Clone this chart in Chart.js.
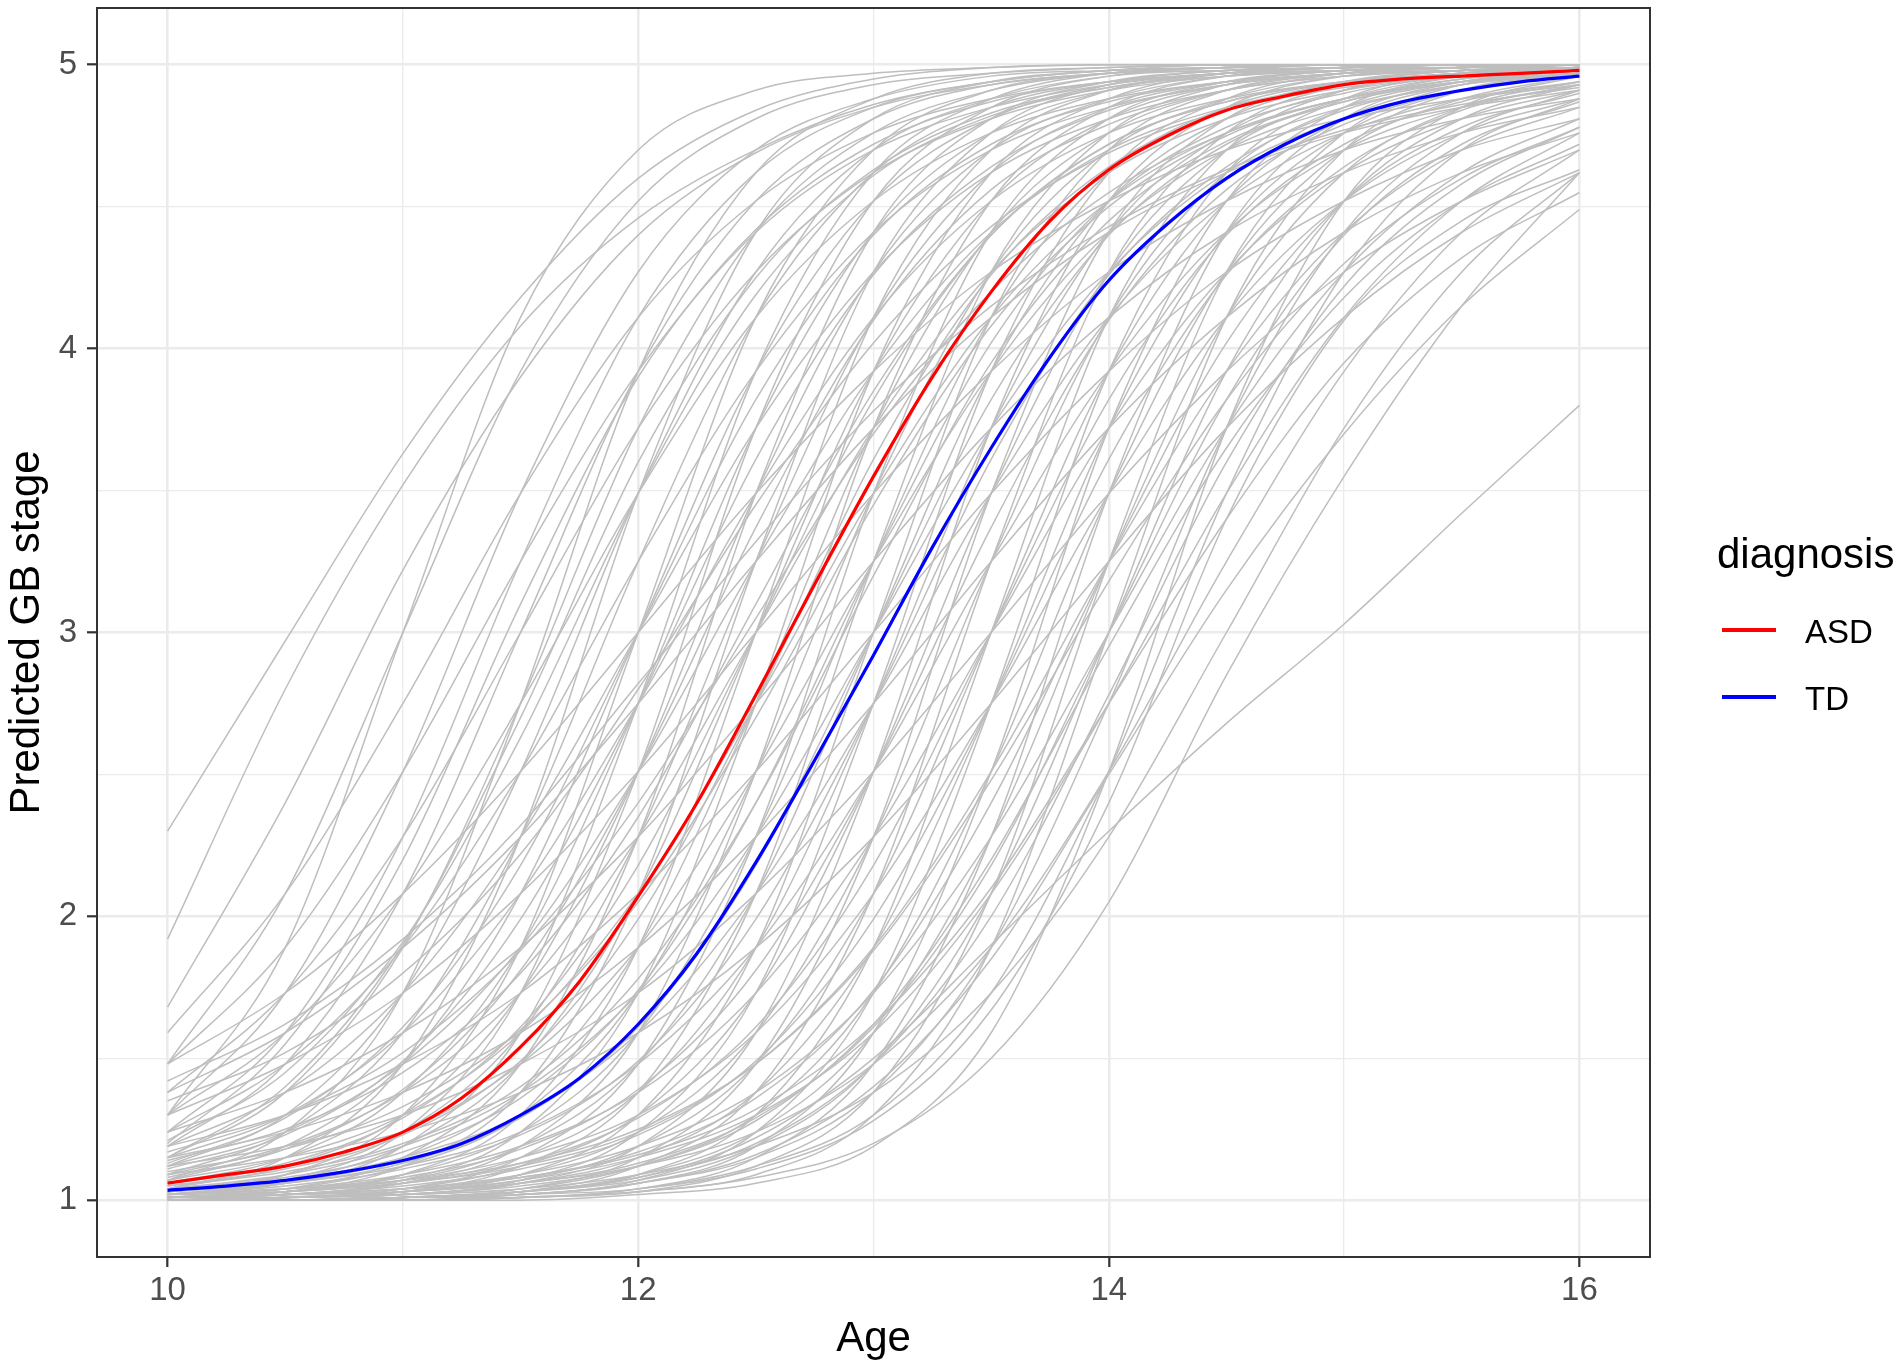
<!DOCTYPE html>
<html>
<head>
<meta charset="utf-8">
<title>Predicted GB stage by age</title>
<script src="https://cdn.jsdelivr.net/npm/chart.js@4.4.1/dist/chart.umd.min.js"></script>
<style>
  html, body { margin: 0; padding: 0; background: #fff; }
  #wrap { width: 1904px; height: 1367px; }
</style>
</head>
<body>
<div id="wrap"><canvas id="gbChart" width="1904" height="1367"></canvas></div>
<script>
// ──────── DATA ────────
const ages = [10, 10.5, 11, 11.5, 12, 12.5, 13, 13.5, 14, 14.5, 15, 15.5, 16];

// group means are read more finely (every quarter year)
const meanAges = [10, 10.25, 10.5, 10.75, 11, 11.25, 11.5, 11.75, 12, 12.25, 12.5, 12.75, 13,
                  13.25, 13.5, 13.75, 14, 14.25, 14.5, 14.75, 15, 15.25, 15.5, 15.75, 16];
const asdMean = [1.06, 1.09, 1.12, 1.17, 1.24, 1.36, 1.54, 1.77, 2.07, 2.40, 2.78, 3.17, 3.55,
                 3.90, 4.20, 4.45, 4.63, 4.75, 4.84, 4.89, 4.93, 4.95, 4.96, 4.97, 4.98];
const tdMean  = [1.035, 1.05, 1.07, 1.10, 1.14, 1.20, 1.30, 1.43, 1.62, 1.87, 2.19, 2.55, 2.92,
                 3.30, 3.65, 3.97, 4.24, 4.44, 4.60, 4.72, 4.81, 4.87, 4.91, 4.94, 4.96];

// one row per child, values at each age above
const individuals = [
  [2.30, 2.97, 3.63, 4.18, 4.60, 4.84, 4.95, 4.99, 5.00, 5.00, 5.00, 5.00, 5.00],
  [1.92, 2.80, 3.52, 4.08, 4.46, 4.70, 4.86, 4.94, 4.98, 4.99, 5.00, 5.00, 5.00],
  [1.68, 2.40, 3.22, 3.90, 4.40, 4.69, 4.85, 4.93, 4.97, 4.98, 4.99, 5.00, 5.00],
  [1.48, 2.08, 3.00, 3.92, 4.52, 4.81, 4.93, 4.97, 4.99, 5.00, 5.00, 5.00, 5.00],
  [1.59, 2.08, 2.75, 3.49, 4.11, 4.52, 4.76, 4.88, 4.94, 4.97, 4.99, 4.99, 5.00],
  [1.30, 1.73, 2.51, 3.49, 4.27, 4.70, 4.88, 4.96, 4.98, 4.99, 5.00, 5.00, 5.00],
  [1.48, 1.89, 2.51, 3.25, 3.92, 4.41, 4.70, 4.85, 4.93, 4.97, 4.98, 4.99, 5.00],
  [1.19, 1.48, 2.08, 3.00, 3.92, 4.52, 4.81, 4.93, 4.97, 4.99, 5.00, 5.00, 5.00],
  [1.38, 1.73, 2.28, 3.00, 3.72, 4.27, 4.62, 4.81, 4.91, 4.96, 4.98, 4.99, 5.00],
  [1.07, 1.24, 1.73, 2.75, 3.92, 4.62, 4.88, 4.97, 4.99, 5.00, 5.00, 5.00, 5.00],
  [1.30, 1.59, 2.08, 2.75, 3.49, 4.11, 4.52, 4.76, 4.88, 4.94, 4.97, 4.99, 4.99],
  [1.12, 1.30, 1.73, 2.51, 3.49, 4.27, 4.70, 4.88, 4.96, 4.98, 4.99, 5.00, 5.00],
  [1.24, 1.48, 1.89, 2.51, 3.25, 3.92, 4.41, 4.70, 4.85, 4.93, 4.97, 4.98, 4.99],
  [1.04, 1.15, 1.48, 2.28, 3.49, 4.41, 4.81, 4.94, 4.98, 5.00, 5.00, 5.00, 5.00],
  [1.09, 1.24, 1.59, 2.28, 3.25, 4.11, 4.62, 4.85, 4.94, 4.98, 4.99, 5.00, 5.00],
  [1.48, 1.73, 2.08, 2.51, 3.00, 3.49, 3.92, 4.27, 4.52, 4.70, 4.81, 4.88, 4.93],
  [1.19, 1.38, 1.73, 2.28, 3.00, 3.72, 4.27, 4.62, 4.81, 4.91, 4.96, 4.98, 4.99],
  [1.07, 1.19, 1.48, 2.08, 3.00, 3.92, 4.52, 4.81, 4.93, 4.97, 4.99, 5.00, 5.00],
  [1.02, 1.07, 1.24, 1.73, 2.75, 3.92, 4.62, 4.88, 4.97, 4.99, 5.00, 5.00, 5.00],
  [1.15, 1.30, 1.59, 2.08, 2.75, 3.49, 4.11, 4.52, 4.76, 4.88, 4.94, 4.97, 4.99],
  [1.06, 1.15, 1.38, 1.89, 2.75, 3.72, 4.41, 4.76, 4.91, 4.97, 4.99, 5.00, 5.00],
  [1.38, 1.59, 1.89, 2.28, 2.75, 3.25, 3.72, 4.11, 4.41, 4.62, 4.76, 4.85, 4.91],
  [1.04, 1.12, 1.30, 1.73, 2.51, 3.49, 4.27, 4.70, 4.88, 4.96, 4.98, 4.99, 5.00],
  [1.12, 1.24, 1.48, 1.89, 2.51, 3.25, 3.92, 4.41, 4.70, 4.85, 4.93, 4.97, 4.98],
  [1.01, 1.04, 1.15, 1.48, 2.28, 3.49, 4.41, 4.81, 4.94, 4.98, 5.00, 5.00, 5.00],
  [1.03, 1.09, 1.24, 1.59, 2.28, 3.25, 4.11, 4.62, 4.85, 4.94, 4.98, 4.99, 5.00],
  [1.09, 1.19, 1.38, 1.73, 2.28, 3.00, 3.72, 4.27, 4.62, 4.81, 4.91, 4.96, 4.98],
  [1.30, 1.48, 1.73, 2.08, 2.51, 3.00, 3.49, 3.92, 4.27, 4.52, 4.70, 4.81, 4.88],
  [1.03, 1.07, 1.19, 1.48, 2.08, 3.00, 3.92, 4.52, 4.81, 4.93, 4.97, 4.99, 5.00],
  [1.01, 1.03, 1.12, 1.38, 2.08, 3.25, 4.27, 4.76, 4.93, 4.98, 4.99, 5.00, 5.00],
  [1.07, 1.15, 1.30, 1.59, 2.08, 2.75, 3.49, 4.11, 4.52, 4.76, 4.88, 4.94, 4.97],
  [1.02, 1.06, 1.15, 1.38, 1.89, 2.75, 3.72, 4.41, 4.76, 4.91, 4.97, 4.99, 5.00],
  [1.02, 1.04, 1.12, 1.30, 1.73, 2.51, 3.49, 4.27, 4.70, 4.88, 4.96, 4.98, 4.99],
  [1.24, 1.38, 1.59, 1.89, 2.28, 2.75, 3.25, 3.72, 4.11, 4.41, 4.62, 4.76, 4.85],
  [1.00, 1.02, 1.06, 1.19, 1.59, 2.51, 3.72, 4.52, 4.85, 4.96, 4.99, 5.00, 5.00],
  [1.06, 1.12, 1.24, 1.48, 1.89, 2.51, 3.25, 3.92, 4.41, 4.70, 4.85, 4.93, 4.97],
  [1.01, 1.03, 1.09, 1.24, 1.59, 2.28, 3.25, 4.11, 4.62, 4.85, 4.94, 4.98, 4.99],
  [1.04, 1.09, 1.19, 1.38, 1.73, 2.28, 3.00, 3.72, 4.27, 4.62, 4.81, 4.91, 4.96],
  [1.01, 1.03, 1.07, 1.19, 1.48, 2.08, 3.00, 3.92, 4.52, 4.81, 4.93, 4.97, 4.99],
  [1.00, 1.01, 1.03, 1.12, 1.38, 2.08, 3.25, 4.27, 4.76, 4.93, 4.98, 4.99, 5.00],
  [1.19, 1.30, 1.48, 1.73, 2.08, 2.51, 3.00, 3.49, 3.92, 4.27, 4.52, 4.70, 4.81],
  [1.01, 1.02, 1.06, 1.15, 1.38, 1.89, 2.75, 3.72, 4.41, 4.76, 4.91, 4.97, 4.99],
  [1.03, 1.07, 1.15, 1.30, 1.59, 2.08, 2.75, 3.49, 4.11, 4.52, 4.76, 4.88, 4.94],
  [1.00, 1.01, 1.02, 1.07, 1.24, 1.73, 2.75, 3.92, 4.62, 4.88, 4.97, 4.99, 5.00],
  [1.15, 1.24, 1.38, 1.59, 1.89, 2.28, 2.75, 3.25, 3.72, 4.11, 4.41, 4.62, 4.76],
  [1.01, 1.02, 1.04, 1.12, 1.30, 1.73, 2.51, 3.49, 4.27, 4.70, 4.88, 4.96, 4.98],
  [1.03, 1.06, 1.12, 1.24, 1.48, 1.89, 2.51, 3.25, 3.92, 4.41, 4.70, 4.85, 4.93],
  [1.00, 1.00, 1.01, 1.04, 1.15, 1.48, 2.28, 3.49, 4.41, 4.81, 4.94, 4.98, 5.00],
  [1.00, 1.01, 1.03, 1.09, 1.24, 1.59, 2.28, 3.25, 4.11, 4.62, 4.85, 4.94, 4.98],
  [1.02, 1.04, 1.09, 1.19, 1.38, 1.73, 2.28, 3.00, 3.72, 4.27, 4.62, 4.81, 4.91],
  [1.00, 1.01, 1.03, 1.07, 1.19, 1.48, 2.08, 3.00, 3.92, 4.52, 4.81, 4.93, 4.97],
  [1.00, 1.00, 1.01, 1.03, 1.09, 1.30, 1.89, 3.00, 4.11, 4.70, 4.91, 4.97, 4.99],
  [1.12, 1.19, 1.30, 1.48, 1.73, 2.08, 2.51, 3.00, 3.49, 3.92, 4.27, 4.52, 4.70],
  [1.00, 1.01, 1.02, 1.06, 1.15, 1.38, 1.89, 2.75, 3.72, 4.41, 4.76, 4.91, 4.97],
  [1.02, 1.03, 1.07, 1.15, 1.30, 1.59, 2.08, 2.75, 3.49, 4.11, 4.52, 4.76, 4.88],
  [1.00, 1.00, 1.00, 1.02, 1.06, 1.19, 1.59, 2.51, 3.72, 4.52, 4.85, 4.96, 4.99],
  [1.00, 1.01, 1.02, 1.04, 1.12, 1.30, 1.73, 2.51, 3.49, 4.27, 4.70, 4.88, 4.96],
  [1.01, 1.03, 1.06, 1.12, 1.24, 1.48, 1.89, 2.51, 3.25, 3.92, 4.41, 4.70, 4.85],
  [1.00, 1.00, 1.01, 1.03, 1.09, 1.24, 1.59, 2.28, 3.25, 4.11, 4.62, 4.85, 4.94],
  [1.09, 1.15, 1.24, 1.38, 1.59, 1.89, 2.28, 2.75, 3.25, 3.72, 4.11, 4.41, 4.62],
  [1.00, 1.00, 1.00, 1.01, 1.03, 1.12, 1.38, 2.08, 3.25, 4.27, 4.76, 4.93, 4.98],
  [1.01, 1.02, 1.04, 1.09, 1.19, 1.38, 1.73, 2.28, 3.00, 3.72, 4.27, 4.62, 4.81],
  [1.00, 1.00, 1.01, 1.03, 1.07, 1.19, 1.48, 2.08, 3.00, 3.92, 4.52, 4.81, 4.93],
  [1.00, 1.00, 1.01, 1.02, 1.06, 1.15, 1.38, 1.89, 2.75, 3.72, 4.41, 4.76, 4.91],
  [1.01, 1.02, 1.03, 1.07, 1.15, 1.30, 1.59, 2.08, 2.75, 3.49, 4.11, 4.52, 4.76],
  [1.00, 1.00, 1.00, 1.02, 1.04, 1.12, 1.30, 1.73, 2.51, 3.49, 4.27, 4.70, 4.88],
  [1.01, 1.01, 1.03, 1.06, 1.12, 1.24, 1.48, 1.89, 2.51, 3.25, 3.92, 4.41, 4.70],
  [1.00, 1.00, 1.01, 1.01, 1.04, 1.11, 1.28, 1.67, 2.40, 3.40, 4.10, 4.45, 4.63],
  [1.00, 1.00, 1.01, 1.03, 1.08, 1.22, 1.50, 1.90, 2.30, 2.68, 3.03, 3.42, 3.80],
  [1.00, 1.00, 1.01, 1.02, 1.06, 1.16, 1.40, 1.85, 2.50, 3.15, 3.70, 4.15, 4.49],
  [1.01, 1.02, 1.04, 1.08, 1.16, 1.32, 1.62, 2.10, 2.75, 3.40, 3.95, 4.32, 4.55],
  [1.00, 1.00, 1.00, 1.01, 1.03, 1.08, 1.20, 1.50, 2.05, 2.85, 3.55, 4.15, 4.62],
  [1.30, 1.89, 3.00, 4.11, 4.70, 4.91, 4.97, 4.99, 5.00, 5.00, 5.00, 5.00, 5.00],
  [1.03, 1.09, 1.30, 1.89, 3.00, 4.11, 4.70, 4.91, 4.97, 4.99, 5.00, 5.00, 5.00],
  [1.02, 1.06, 1.19, 1.59, 2.51, 3.72, 4.52, 4.85, 4.96, 4.99, 5.00, 5.00, 5.00],
  [1.01, 1.03, 1.09, 1.30, 1.89, 3.00, 4.11, 4.70, 4.91, 4.97, 4.99, 5.00, 5.00],
  [1.01, 1.02, 1.07, 1.24, 1.73, 2.75, 3.92, 4.62, 4.88, 4.97, 4.99, 5.00, 5.00],
  [1.00, 1.01, 1.04, 1.15, 1.48, 2.28, 3.49, 4.41, 4.81, 4.94, 4.98, 5.00, 5.00],
  [1.00, 1.01, 1.03, 1.09, 1.30, 1.89, 3.00, 4.11, 4.70, 4.91, 4.97, 4.99, 5.00],
  [1.00, 1.00, 1.02, 1.06, 1.19, 1.59, 2.51, 3.72, 4.52, 4.85, 4.96, 4.99, 5.00],
  [1.00, 1.00, 1.01, 1.03, 1.12, 1.38, 2.08, 3.25, 4.27, 4.76, 4.93, 4.98, 4.99],
  [1.00, 1.00, 1.01, 1.02, 1.07, 1.24, 1.73, 2.75, 3.92, 4.62, 4.88, 4.97, 4.99],
  [1.00, 1.00, 1.00, 1.01, 1.04, 1.15, 1.48, 2.28, 3.49, 4.41, 4.81, 4.94, 4.98],
  [1.00, 1.00, 1.00, 1.01, 1.03, 1.09, 1.30, 1.89, 3.00, 4.11, 4.70, 4.91, 4.97],
  [1.00, 1.00, 1.00, 1.00, 1.02, 1.06, 1.19, 1.59, 2.51, 3.72, 4.52, 4.85, 4.96],
  [1.15, 1.38, 1.89, 2.75, 3.72, 4.41, 4.76, 4.91, 4.97, 4.99, 5.00, 5.00, 5.00],
  [1.24, 1.59, 2.28, 3.25, 4.11, 4.62, 4.85, 4.94, 4.98, 4.99, 5.00, 5.00, 5.00],
  [1.00, 1.01, 1.02, 1.04, 1.09, 1.19, 1.38, 1.73, 2.28, 3.00, 3.72, 4.27, 4.62],
  [1.21, 1.45, 1.91, 2.63, 3.49, 4.19, 4.61, 4.82, 4.92, 4.96, 4.98, 4.99, 5.00],
  [1.13, 1.29, 1.61, 2.18, 3.00, 3.82, 4.40, 4.72, 4.87, 4.94, 4.98, 4.99, 5.00],
  [1.11, 1.23, 1.49, 1.99, 2.75, 3.61, 4.26, 4.64, 4.84, 4.93, 4.97, 4.99, 5.00],
  [1.08, 1.18, 1.39, 1.81, 2.51, 3.37, 4.10, 4.56, 4.79, 4.91, 4.96, 4.98, 4.99],
  [1.06, 1.13, 1.29, 1.61, 2.18, 3.00, 3.82, 4.40, 4.72, 4.87, 4.94, 4.98, 4.99],
  [1.05, 1.11, 1.23, 1.49, 1.99, 2.75, 3.61, 4.26, 4.64, 4.84, 4.93, 4.97, 4.99],
  [1.04, 1.08, 1.17, 1.36, 1.74, 2.40, 3.25, 4.02, 4.52, 4.78, 4.90, 4.96, 4.98],
  [1.03, 1.06, 1.13, 1.29, 1.61, 2.18, 3.00, 3.82, 4.40, 4.72, 4.87, 4.95, 4.98],
  [1.02, 1.05, 1.11, 1.23, 1.49, 1.99, 2.75, 3.61, 4.26, 4.64, 4.84, 4.93, 4.97],
  [1.02, 1.04, 1.08, 1.18, 1.39, 1.81, 2.51, 3.37, 4.10, 4.56, 4.79, 4.91, 4.96],
  [1.01, 1.03, 1.06, 1.13, 1.29, 1.61, 2.18, 3.00, 3.82, 4.40, 4.72, 4.87, 4.94],
  [1.01, 1.02, 1.05, 1.11, 1.23, 1.49, 1.99, 2.75, 3.61, 4.26, 4.64, 4.84, 4.93],
  [1.01, 1.02, 1.04, 1.08, 1.17, 1.36, 1.74, 2.40, 3.25, 4.02, 4.52, 4.78, 4.90],
  [1.01, 1.01, 1.03, 1.06, 1.13, 1.29, 1.61, 2.18, 3.00, 3.82, 4.40, 4.72, 4.87],
  [1.42, 1.62, 1.92, 2.32, 2.82, 3.32, 3.78, 4.15, 4.43, 4.63, 4.77, 4.86, 4.92],
  [1.35, 1.52, 1.80, 2.22, 2.80, 3.45, 4.02, 4.43, 4.69, 4.84, 4.92, 4.96, 4.98],
  [1.17, 1.30, 1.52, 1.88, 2.40, 3.05, 3.70, 4.20, 4.55, 4.76, 4.88, 4.94, 4.97],
  [1.10, 1.18, 1.33, 1.60, 2.05, 2.70, 3.45, 4.08, 4.50, 4.75, 4.88, 4.95, 4.98],
  [1.14, 1.25, 1.45, 1.80, 2.35, 3.10, 3.85, 4.40, 4.72, 4.87, 4.94, 4.97, 4.99],
  [1.05, 1.10, 1.20, 1.40, 1.78, 2.40, 3.20, 3.95, 4.45, 4.73, 4.87, 4.94, 4.97],
  [1.00, 1.01, 1.02, 1.05, 1.12, 1.28, 1.62, 2.20, 2.95, 3.65, 4.18, 4.52, 4.72],
  [1.02, 1.04, 1.07, 1.13, 1.25, 1.48, 1.88, 2.48, 3.18, 3.82, 4.30, 4.60, 4.78],
  [1.00, 1.00, 1.01, 1.03, 1.08, 1.20, 1.48, 2.00, 2.78, 3.60, 4.22, 4.58, 4.78],
  [1.20, 1.55, 2.20, 3.10, 3.90, 4.42, 4.72, 4.87, 4.94, 4.97, 4.99, 5.00, 5.00],
  [1.15, 1.40, 1.90, 2.70, 3.60, 4.25, 4.63, 4.83, 4.92, 4.97, 4.99, 5.00, 5.00]
];

const xMajor = [10, 12, 14, 16];
const xMinor = [11, 13, 15];
const yMajor = [1, 2, 3, 4, 5];
const yMinor = [1.5, 2.5, 3.5, 4.5];

const FONT = '"Liberation Sans", Arial, Helvetica, sans-serif';
Chart.defaults.font.family = FONT;

const toPoints = (xs, vals) => xs.map((a, i) => ({ x: a, y: vals[i] }));
const byValue = (a, b) => a - b;

// ──────── PLUGINS ────────
const panelBorder = {
  id: 'panelBorder',
  afterDatasetsDraw(chart) {
    const { ctx, chartArea: a } = chart;
    ctx.save();
    ctx.strokeStyle = '#333333';
    ctx.lineWidth = 2;
    ctx.strokeRect(a.left, a.top, a.right - a.left, a.bottom - a.top);
    ctx.restore();
  }
};

const diagnosisLegend = {
  id: 'diagnosisLegend',
  afterDraw(chart) {
    const ctx = chart.ctx;
    const x0 = chart.chartArea.right + 67;
    ctx.save();
    ctx.fillStyle = '#000';
    ctx.textBaseline = 'alphabetic';
    ctx.font = `42px ${FONT}`;
    ctx.fillText('diagnosis', x0, 568);
    chart.data.datasets.filter(d => d.label).forEach((d, i) => {
      const y = 630 + i * 67;
      ctx.strokeStyle = d.borderColor;
      ctx.lineWidth = 4;
      ctx.beginPath();
      ctx.moveTo(x0 + 5, y);
      ctx.lineTo(x0 + 59, y);
      ctx.stroke();
      ctx.font = `33px ${FONT}`;
      ctx.fillText(d.label, x0 + 88, y + 13);
    });
    ctx.restore();
  }
};

// ──────── CHART ────────
const datasets = [
  { label: 'ASD', data: toPoints(meanAges, asdMean), borderColor: '#FF0000', borderWidth: 3.2 },
  { label: 'TD', data: toPoints(meanAges, tdMean), borderColor: '#0000FF', borderWidth: 3.2 },
  ...individuals.map(vals => ({ data: toPoints(ages, vals), borderColor: '#BEBEBE', borderWidth: 1.5 }))
];

new Chart(document.getElementById('gbChart'), {
  type: 'line',
  data: { datasets },
  options: {
    responsive: false,
    animation: false,
    devicePixelRatio: 1,
    layout: { padding: { top: 8, right: 254, left: 0, bottom: 0 } },
    elements: {
      point: { radius: 0 },
      line: { cubicInterpolationMode: 'monotone', fill: false }
    },
    plugins: { legend: { display: false }, tooltip: { enabled: false } },
    scales: {
      x: {
        type: 'linear', min: 9.7, max: 16.3,
        afterBuildTicks: s => { s.ticks = [...xMajor, ...xMinor].sort(byValue).map(v => ({ value: v })); },
        afterFit: s => { s.height = 110; s.paddingLeft = 0; s.paddingRight = 0; },
        border: { display: false },
        grid: {
          color: '#EBEBEB',
          lineWidth: c => (c.tick && xMajor.includes(c.tick.value)) ? 2.6 : 1.3,
          tickColor: c => (c.tick && xMajor.includes(c.tick.value)) ? '#333333' : 'rgba(0,0,0,0)',
          tickWidth: 2.2,
          tickLength: 10
        },
        ticks: {
          color: '#4D4D4D', font: { size: 33 }, padding: 4,
          maxRotation: 0, autoSkip: false,
          callback: v => xMajor.includes(v) ? String(v) : ''
        },
        title: { display: true, text: 'Age', color: '#000', font: { size: 42 }, padding: { top: 0, bottom: 2 } }
      },
      y: {
        type: 'linear', min: 0.8, max: 5.2,
        afterBuildTicks: s => { s.ticks = [...yMajor, ...yMinor].sort(byValue).map(v => ({ value: v })); },
        afterFit: s => { s.width = 97; s.paddingTop = 0; s.paddingBottom = 0; },
        border: { display: false },
        grid: {
          color: '#EBEBEB',
          lineWidth: c => (c.tick && yMajor.includes(c.tick.value)) ? 2.6 : 1.3,
          tickColor: c => (c.tick && yMajor.includes(c.tick.value)) ? '#333333' : 'rgba(0,0,0,0)',
          tickWidth: 2.2,
          tickLength: 10
        },
        ticks: {
          color: '#4D4D4D', font: { size: 33 }, padding: 10, autoSkip: false,
          callback: v => yMajor.includes(v) ? String(v) : ''
        },
        title: { display: true, text: 'Predicted GB stage', color: '#000', font: { size: 42 }, padding: { top: 2, bottom: 0 } }
      }
    }
  },
  plugins: [panelBorder, diagnosisLegend]
});
</script>
</body>
</html>
